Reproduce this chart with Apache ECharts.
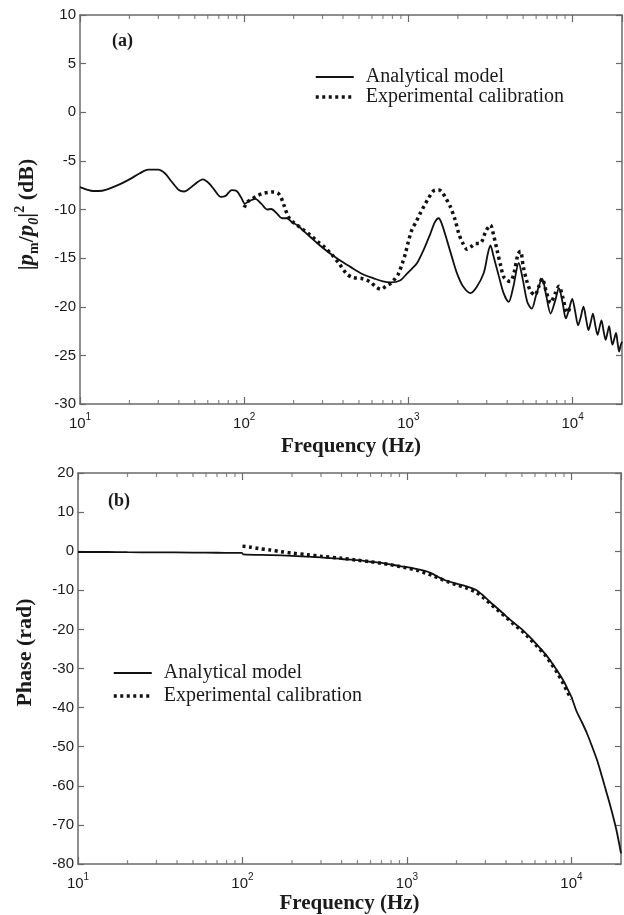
<!DOCTYPE html>
<html><head><meta charset="utf-8">
<script src="https://cdn.jsdelivr.net/npm/echarts@6/dist/echarts.min.js"></script>
<style>html,body{margin:0;padding:0;background:#fff}#c{width:624px;height:915px}</style>
</head><body><div id="c"></div>
<script>
// ---- data ----
var magModelFreq = [10,11,12,13,14.5,17,20,23,26,30,33,36,40,43,46,50,56,61,66,72,77,84,90,96,101,108,117,127,138,146,158,170,182,195,210,230,252,280,320,380,443,520,620,700,780,890,980,1050,1130,1250,1360,1450,1530,1600,1720,1850,1980,2150,2390,2600,2880,3050,3160,3300,3550,3800,4080,4350,4700,4950,5300,5640,6000,6530,6900,7350,7800,8260,8700,9100,9500,9950,10400,10800,11200,11650,12100,12500,12900,13300,13750,14200,14600,15000,15450,15900,16300,16700,17100,17500,17950,18400,18800,19200,19600,20000];
var magModelVal  = [-7.7,-7.95,-8.1,-8.1,-7.95,-7.5,-6.9,-6.3,-5.9,-5.9,-6.3,-7.1,-8.0,-8.15,-7.9,-7.4,-6.9,-7.3,-8.0,-8.7,-8.6,-8.0,-8.1,-8.8,-9.4,-9.1,-8.9,-9.4,-10.0,-9.95,-10.4,-10.9,-10.9,-11.3,-11.6,-12.2,-12.8,-13.5,-14.3,-15.2,-15.9,-16.6,-17.1,-17.4,-17.5,-17.3,-16.6,-16.1,-15.5,-14.0,-12.5,-11.3,-10.9,-11.5,-13.2,-15.0,-16.6,-17.9,-18.6,-18.0,-16.5,-14.5,-13.7,-14.8,-16.8,-18.6,-19.5,-18.0,-15.5,-17.0,-19.5,-20.2,-18.8,-17.1,-18.8,-20.7,-19.5,-18.1,-19.6,-21.2,-20.3,-19.2,-20.6,-21.9,-21.1,-20.0,-21.3,-22.4,-21.6,-20.7,-21.9,-22.9,-22.1,-21.4,-22.5,-23.4,-22.7,-22.0,-23.1,-23.9,-23.3,-22.7,-23.7,-24.6,-24.0,-23.6];

var magExpFreq = [100,105,112,120,130,140,150,160,167,175,185,195,210,230,252,280,310,340,380,420,460,520,580,640,680,730,780,830,870,920,960,1000,1050,1120,1180,1250,1320,1400,1460,1540,1600,1700,1800,1920,2030,2150,2280,2420,2570,2700,2820,2950,3160,3300,3470,3650,3800,4000,4170,4400,4650,4820,5000,5250,5550,5900,6200,6530,6900,7350,7800,8260,8700,9290,9700];
var magExpVal  = [-9.8,-9.2,-8.9,-8.6,-8.35,-8.25,-8.2,-8.3,-8.7,-9.6,-10.7,-11.2,-11.6,-12.1,-12.6,-13.3,-13.9,-14.6,-15.6,-16.6,-17.0,-17.1,-17.4,-18.0,-18.2,-17.9,-17.6,-17.1,-16.6,-15.5,-14.5,-13.3,-12.1,-11.2,-10.4,-9.6,-8.9,-8.2,-8.0,-8.0,-8.2,-8.9,-9.7,-11.0,-12.5,-13.5,-14.1,-13.8,-13.5,-13.5,-13.2,-12.3,-11.6,-12.6,-14.2,-15.8,-16.9,-17.3,-17.4,-16.5,-14.6,-14.3,-15.8,-17.3,-18.4,-18.8,-18.0,-17.1,-18.4,-19.6,-18.7,-17.9,-19.0,-20.6,-20.0];

var phModelFreq = [10,15,20,30,50,70,99,101,150,200,300,400,500,600,700,800,900,1000,1150,1300,1400,1550,1720,2000,2300,2600,2900,3200,3500,4000,4430,5000,5530,6200,6900,7500,8170,8900,9660,10000,10700,11500,12400,13300,14300,15100,15900,16800,17700,18800,20000];
var phModelVal  = [-0.2,-0.2,-0.25,-0.3,-0.35,-0.4,-0.45,-0.8,-1.0,-1.2,-1.6,-2.0,-2.3,-2.7,-3.0,-3.4,-3.8,-4.1,-4.6,-5.1,-5.6,-6.6,-7.5,-8.3,-9.0,-9.8,-11.3,-13.0,-14.4,-16.6,-18.2,-20.0,-21.8,-24.0,-26.2,-28.2,-30.5,-33.0,-36.0,-37.3,-40.8,-43.5,-46.5,-49.8,-53.4,-56.7,-60.0,-63.5,-67.0,-71.5,-77.3];

var phExpFreq = [100,110,125,148,170,200,250,300,400,500,600,700,800,900,1000,1150,1300,1450,1600,1800,2000,2300,2600,2900,3200,3500,4000,4430,5000,5530,6200,6900,7500,8170,8900,9500,10000];
var phExpVal  = [1.3,1.1,0.7,0.3,-0.1,-0.5,-0.9,-1.3,-1.8,-2.3,-2.7,-3.1,-3.5,-3.9,-4.3,-4.9,-5.6,-6.3,-7.1,-7.9,-8.6,-9.4,-10.4,-11.8,-13.4,-14.8,-16.9,-18.6,-20.4,-22.2,-24.4,-26.5,-28.6,-31.0,-33.8,-36.2,-37.8];

var seriesNames = ['Analytical model', 'Experimental calibration'];
var minorTickFreqs = [20,30,40,50,60,70,80,90,200,300,400,500,600,700,800,900,2000,3000,4000,5000,6000,7000,8000,9000];
var magRange = [-30, 10];
var phRange = [-80, 20];
// -------------------------------------------------

function pairs(xs, ys) { return xs.map(function (x, i) { return [x, ys[i]]; }); }

var AX = '#6a6a6a';
var TXT = '#1a1a1a';
var SANS = '"Liberation Sans", Arial, sans-serif';
var SERIF = '"Liberation Serif", "Times New Roman", serif';

function logLabel(v) {
  var e = Math.round(Math.log10(v));
  if (Math.abs(Math.pow(10, e) - v) > 1e-6 * v) return '';
  return '{b|10}{s|' + e + '}';
}

function xAxisDef(gridIndex, pos, showLabels) {
  return {
    gridIndex: gridIndex, type: 'log', logBase: 10, min: 10, max: 20000, position: pos,
    axisLine: { onZero: false, lineStyle: { color: AX, width: 1.5 } },
    axisTick: { show: true, inside: true, length: 7, lineStyle: { color: AX, width: 1.2 } },
    splitLine: { show: false },
    axisLabel: showLabels ? {
      show: true, margin: 8, formatter: logLabel, showMaxLabel: false,
      rich: {
        b: { fontFamily: SANS, fontSize: 15, color: TXT, lineHeight: 24, verticalAlign: 'middle' },
        s: { fontFamily: SANS, fontSize: 10, color: TXT, lineHeight: 10, verticalAlign: 'top' }
      }
    } : { show: false },
    name: showLabels ? 'Frequency (Hz)' : '',
    nameLocation: 'middle',
    nameGap: gridIndex === 0 ? 32 : 29,
    nameTextStyle: { fontFamily: SERIF, fontWeight: 'bold', fontSize: 21, color: TXT }
  };
}

function yAxisDef(gridIndex, pos, range, interval, showLabels, name, nameGap, nameStyle) {
  return {
    gridIndex: gridIndex, type: 'value', min: range[0], max: range[1], interval: interval, position: pos,
    axisLine: { show: true, onZero: false, lineStyle: { color: AX, width: 1.5 } },
    axisTick: { show: true, inside: true, length: 6, lineStyle: { color: AX, width: 1.2 } },
    splitLine: { show: false },
    axisLabel: showLabels ? { show: true, margin: 4, fontFamily: SANS, fontSize: 15, color: TXT } : { show: false },
    name: name || '',
    nameLocation: 'middle',
    nameGap: nameGap || 0,
    nameRotate: 90,
    nameTextStyle: nameStyle || {}
  };
}

var magTitleStyle = {
  fontFamily: SERIF, fontWeight: 'bold', fontSize: 22, color: TXT,
  padding: [0, 10, 0, 0],
  rich: {
    n: { fontFamily: SERIF, fontWeight: 'bold', fontSize: 22, color: TXT, lineHeight: 28, verticalAlign: 'middle' },
    i: { fontFamily: SERIF, fontWeight: 'bold', fontStyle: 'italic', fontSize: 23, color: TXT, lineHeight: 28, verticalAlign: 'middle' },
    sub: { fontFamily: SERIF, fontWeight: 'bold', fontSize: 14, color: TXT, lineHeight: 13, verticalAlign: 'bottom' },
    subi: { fontFamily: SERIF, fontWeight: 'bold', fontStyle: 'italic', fontSize: 14, color: TXT, lineHeight: 13, verticalAlign: 'bottom' },
    sup: { fontFamily: SERIF, fontWeight: 'bold', fontSize: 14, color: TXT, lineHeight: 13, verticalAlign: 'top' }
  }
};
var phTitleStyle = { fontFamily: SERIF, fontWeight: 'bold', fontSize: 22, color: TXT, padding: [0, 0, 0, 32] };

function minorTicks(xIdx, yIdx, yVal, off) {
  return {
    type: 'scatter', xAxisIndex: xIdx, yAxisIndex: yIdx, silent: true, clip: false,
    symbol: 'rect', symbolSize: [1.2, 4], symbolOffset: [0, off],
    itemStyle: { color: AX }, emphasis: { disabled: true }, z: 1,
    data: minorTickFreqs.map(function (f) { return [f, yVal]; })
  };
}

function modelSeries(name, xIdx, yIdx, data) {
  return {
    name: name, type: 'line', xAxisIndex: xIdx, yAxisIndex: yIdx, data: data,
    symbol: 'none', smooth: 0.3, lineStyle: { color: '#111', width: 1.8 }, itemStyle: { color: '#111' }, z: 3
  };
}
function expSeries(name, xIdx, yIdx, data) {
  return {
    name: name, type: 'line', xAxisIndex: xIdx, yAxisIndex: yIdx, data: data,
    symbol: 'none', smooth: 0.3, lineStyle: { color: '#111', width: 3.5, type: [3, 3.5], cap: 'butt' }, itemStyle: { color: '#111' }, z: 4
  };
}

function legendDef(left, top, gap) {
  return {
    data: seriesNames, orient: 'vertical', left: left, top: top, selectedMode: false,
    itemWidth: 38, itemHeight: 20, itemGap: gap,
    itemStyle: { color: 'rgba(0,0,0,0)', borderColor: 'rgba(0,0,0,0)', borderWidth: 0 },
    lineStyle: { width: 'inherit' },
    textStyle: { fontFamily: SERIF, fontSize: 20, color: TXT, padding: [0, 0, 0, 7] }
  };
}

var option = {
  animation: false,
  backgroundColor: '#fff',
  grid: [
    { left: 80, top: 15, width: 542, height: 389 },
    { left: 78, top: 473, width: 543, height: 392 }
  ],
  xAxis: [
    xAxisDef(0, 'bottom', true),
    xAxisDef(0, 'top', false),
    xAxisDef(1, 'bottom', true),
    xAxisDef(1, 'top', false)
  ],
  yAxis: [
    yAxisDef(0, 'left', magRange, 5, true,
      '{n||}{i|p}{sub|m}{n|/}{i|p}{subi|0}{n||}{sup|2}{n| (dB)}', 39, magTitleStyle),
    yAxisDef(0, 'right', magRange, 5, false),
    yAxisDef(1, 'left', phRange, 10, true, 'Phase (rad)', 42, phTitleStyle),
    yAxisDef(1, 'right', phRange, 10, false)
  ],
  legend: [legendDef(309, 62, 0), legendDef(107, 658, 3)],
  graphic: [
    { type: 'text', left: 112, top: 32, style: { text: '(a)', font: 'bold 18px ' + SERIF, fill: TXT } },
    { type: 'text', left: 108, top: 492, style: { text: '(b)', font: 'bold 18px ' + SERIF, fill: TXT } }
  ],
  series: [
    modelSeries(seriesNames[0], 0, 0, pairs(magModelFreq, magModelVal)),
    expSeries(seriesNames[1], 0, 0, pairs(magExpFreq, magExpVal)),
    modelSeries(seriesNames[0], 2, 2, pairs(phModelFreq, phModelVal)),
    expSeries(seriesNames[1], 2, 2, pairs(phExpFreq, phExpVal)),
    minorTicks(0, 0, magRange[0], -2),
    minorTicks(1, 0, magRange[1], 2),
    minorTicks(2, 2, phRange[0], -2),
    minorTicks(3, 2, phRange[1], 2)
  ]
};

var chart = echarts.init(document.getElementById('c'), null, { renderer: 'canvas' });
chart.setOption(option);
</script>
</body></html>
